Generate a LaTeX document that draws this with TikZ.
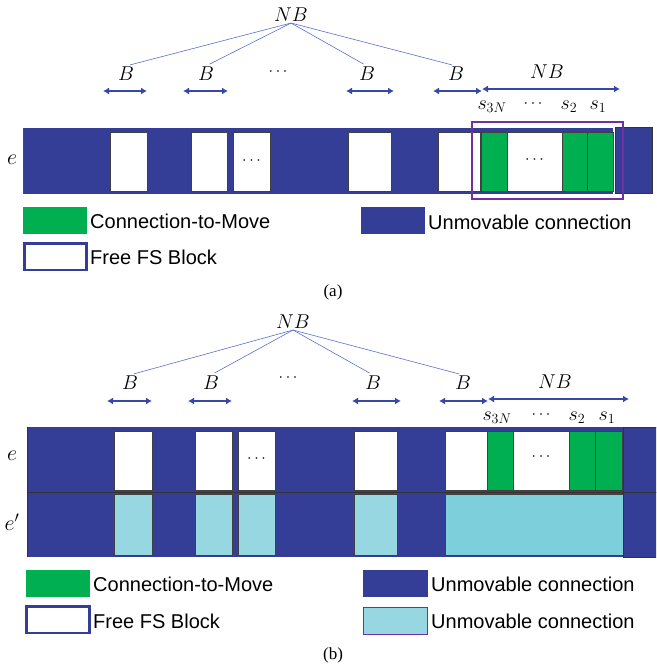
\RequirePackage{fix-cm}
\documentclass[tikz,border=0pt]{standalone}
\usepackage[no-math]{fontspec}
\setmainfont{Liberation Sans}
\newfontfamily\capfont{Liberation Serif}
\usetikzlibrary{arrows.meta}
\definecolor{dkblue}{HTML}{353E96}
\definecolor{cgreen}{HTML}{00B050}
\definecolor{lcyan}{HTML}{97D7E1}
\definecolor{bcyan}{HTML}{7ECFDC}
\definecolor{cpurple}{HTML}{7030A0}
\definecolor{treeblue}{HTML}{5B6FCF}
\definecolor{arrblue}{HTML}{3848A8}
\tikzset{
  dk/.style={fill=dkblue},
  wbox/.style={fill=white, draw=black!75, line width=0.7pt},
  gbox/.style={fill=cgreen, draw=black!75, line width=0.7pt},
  cbox/.style={fill=lcyan, draw=black!75, line width=0.7pt},
  bcbox/.style={fill=bcyan, draw=black!75, line width=0.7pt},
  endbox/.style={fill=dkblue, draw=black!80, line width=1pt},
  tree/.style={draw=treeblue, line width=0.6pt, shorten >=4pt},
  dimarrow/.style={draw=arrblue, line width=1.4pt, {Latex[length=6pt,width=7pt]}-{Latex[length=6pt,width=7pt]}},
  mlab/.style={font=\fontsize{20}{22}\selectfont, inner sep=1pt},
  slab/.style={font=\fontsize{20}{22}\selectfont, inner sep=1pt},
  dots/.style={font=\fontsize{16}{18}\selectfont, inner sep=0pt},
  elab/.style={font=\fontsize{22}{24}\selectfont, inner sep=1pt},
  leg/.style={font=\fontsize{20}{22}\selectfont, anchor=west, inner sep=0pt},
  capt/.style={font=\capfont\fontsize{17}{19}\selectfont},
}
\begin{document}
\begin{tikzpicture}[x=1pt,y=-1pt]
\useasboundingbox (0,0) rectangle (656,668);
\clip (0,0) rectangle (656,668);

% ================= (a) =================
\node[mlab] (nba) at (291,15) {$NB$};
\node[mlab] (ba1) at (126,74) {$B$};
\node[mlab] (ba2) at (206,74) {$B$};
\node[dots] (da) at (278,72) {$\cdots$};
\node[mlab] (ba3) at (367,74) {$B$};
\node[mlab] (ba4) at (456,74) {$B$};
\node[mlab] (nbra) at (547,72) {$NB$};
\foreach \t in {ba1,ba2,ba3,ba4} \draw[tree] (nba.south) -- (\t.north);

\coordinate (a1l) at (103,91); \coordinate (a1r) at (147,91);
\coordinate (a2l) at (183,91); \coordinate (a2r) at (228,91);
\coordinate (a3l) at (346,91); \coordinate (a3r) at (394,91);
\coordinate (a4l) at (433,91); \coordinate (a4r) at (482,91);
\coordinate (a5l) at (482,89); \coordinate (a5r) at (620,89);
\draw[dimarrow] (a1l) -- (a1r);
\draw[dimarrow] (a2l) -- (a2r);
\draw[dimarrow] (a3l) -- (a3r);
\draw[dimarrow] (a4l) -- (a4r);
\draw[dimarrow] (a5l) -- (a5r);

\node[slab] (sa3n) at (492,107) {$s_{3N}$};
\node[dots] (sad) at (533,104) {$\cdots$};
\node[slab] (sa2) at (569,107) {$s_2$};
\node[slab] (sa1) at (598,107) {$s_1$};

\node[elab] (ea) at (12,160) {$e$};

\fill[dk] (23,128) rectangle (613,194);
\draw[black!70, line width=0.8pt] (23,128) -- (23,194);
\path[wbox] (110,132) rectangle (147,191);
\path[wbox] (191,132) rectangle (227,191);
\path[wbox] (233,132) rectangle (270,191);
\node[dots] at (251.5,161) {$\cdots$};
\path[wbox] (348,132) rectangle (391,191);
\path[wbox] (438,132) rectangle (480,191);
\path[gbox] (481,132) rectangle (507,191);
\path[wbox] (507,132) rectangle (562,191);
\node[dots] at (534.5,160) {$\cdots$};
\path[gbox] (562,132) rectangle (587,191);
\path[gbox] (587,132) rectangle (613,191);
\path[endbox] (615,128) rectangle (652,194);
\draw[cpurple, line width=2.5pt] (472,122) rectangle (623,199);

% legend (a)
\fill[cgreen] (23,207) rectangle (87,234);
\node[leg] at (90,221) {Connection-to-Move};
\draw[dkblue, line width=2.5pt, fill=white] (24.5,243.5) rectangle (86.5,270);
\node[leg] at (90,257) {Free FS Block};
\fill[dkblue] (361,207) rectangle (425,234);
\node[leg] at (428,222) {Unmovable connection};
\node[capt] at (333,292) {(a)};

% ================= (b) =================
\node[mlab] (nbb) at (293,322) {$NB$};
\node[mlab] (bb1) at (130,383) {$B$};
\node[mlab] (bb2) at (211,383) {$B$};
\node[dots] (db) at (288,378) {$\cdots$};
\node[mlab] (bb3) at (373,383) {$B$};
\node[mlab] (bb4) at (463,383) {$B$};
\node[mlab] (nbrb) at (555,382) {$NB$};
\foreach \t in {bb1,bb2,bb3,bb4} \draw[tree] (nbb.south) -- (\t.north);

\coordinate (b1l) at (107,401); \coordinate (b1r) at (152,401);
\coordinate (b2l) at (188,401); \coordinate (b2r) at (232,401);
\coordinate (b3l) at (352,401); \coordinate (b3r) at (401,401);
\coordinate (b4l) at (439,401); \coordinate (b4r) at (488,401);
\coordinate (b5l) at (488,399); \coordinate (b5r) at (629,399);
\draw[dimarrow] (b1l) -- (b1r);
\draw[dimarrow] (b2l) -- (b2r);
\draw[dimarrow] (b3l) -- (b3r);
\draw[dimarrow] (b4l) -- (b4r);
\draw[dimarrow] (b5l) -- (b5r);

\node[slab] (sb3n) at (497,418) {$s_{3N}$};
\node[dots] (sbd) at (541,415) {$\cdots$};
\node[slab] (sb2) at (577,418) {$s_2$};
\node[slab] (sb1) at (607,418) {$s_1$};

\node[elab] (eb) at (12,456) {$e$};
\node[elab] (ebp) at (12,522) {$e'$};

\fill[dk] (27,427) rectangle (623,557);
\draw[black!80, line width=0.9pt] (27,427) -- (27,557);
\draw[black!80, line width=1.2pt] (27,492.5) -- (623,492.5);
% row e
\path[wbox] (114,431) rectangle (152,490);
\path[wbox] (195,431) rectangle (232,490);
\path[wbox] (238,431) rectangle (275,490);
\node[dots] at (256.5,459) {$\cdots$};
\path[wbox] (354,431) rectangle (397,490);
\path[wbox] (445,431) rectangle (487,490);
\path[gbox] (487,431) rectangle (513,490);
\path[wbox] (513,431) rectangle (569,490);
\node[dots] at (541,457) {$\cdots$};
\path[gbox] (569,431) rectangle (595,490);
\path[gbox] (595,431) rectangle (622,490);
% row e'
\path[cbox] (114,494.5) rectangle (152,555);
\path[cbox] (195,494.5) rectangle (232,555);
\path[cbox] (238,494.5) rectangle (275,555);
\path[cbox] (354,494.5) rectangle (397,555);
\path[bcbox] (445,494.5) rectangle (623,555);
\path[endbox] (623,427) rectangle (660,492.5);
\path[endbox] (623,492.5) rectangle (660,557);

% legend (b)
\fill[cgreen] (26,570) rectangle (90,597);
\node[leg] at (93,584) {Connection-to-Move};
\draw[dkblue, line width=2.5pt, fill=white] (26.5,606.5) rectangle (89.5,633);
\node[leg] at (93,621) {Free FS Block};
\fill[dkblue] (363,570) rectangle (428,597);
\node[leg] at (431,584) {Unmovable connection};
\draw[cpurple, line width=0.9pt, fill=lcyan] (363.5,607.5) rectangle (427.5,634.5);
\node[leg] at (431,621) {Unmovable connection};
\node[capt] at (333,655) {(b)};
\end{tikzpicture}
\end{document}
